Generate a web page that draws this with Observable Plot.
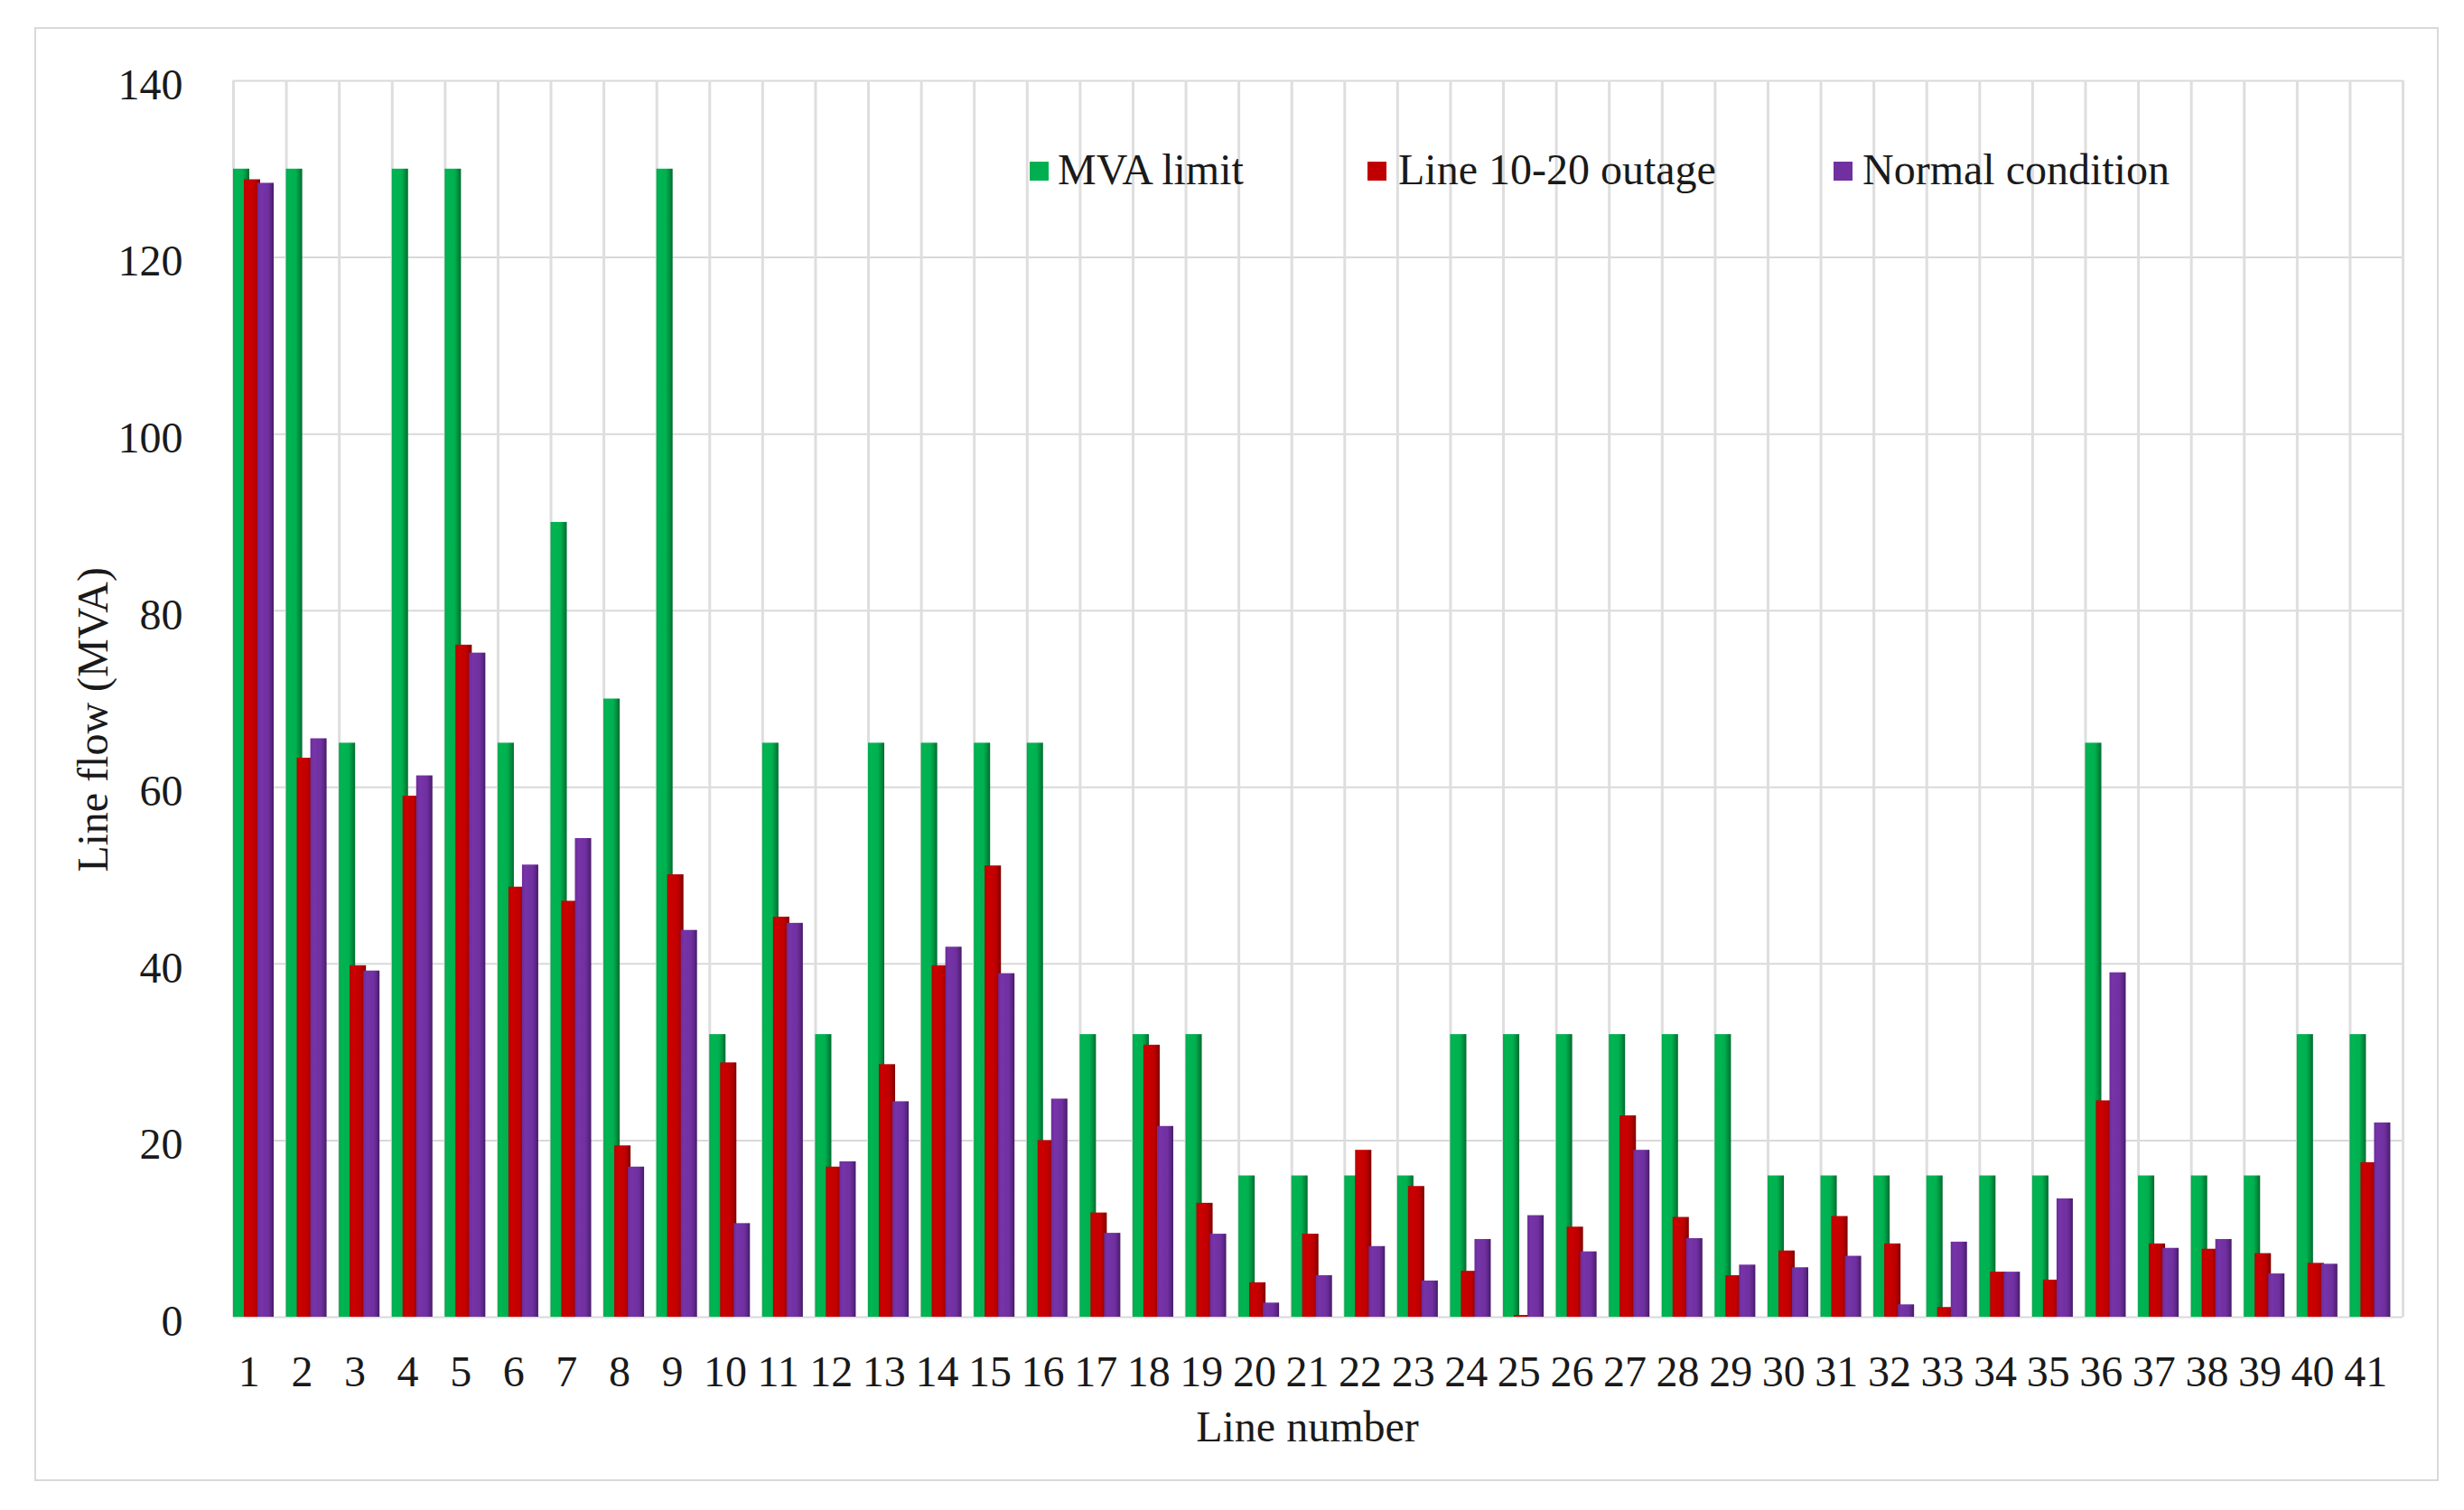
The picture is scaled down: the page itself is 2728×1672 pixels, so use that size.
<!DOCTYPE html>
<html>
<head>
<meta charset="utf-8">
<script src="https://cdn.jsdelivr.net/npm/d3@7"></script>
<script src="https://cdn.jsdelivr.net/npm/@observablehq/plot@0.6"></script>
<style>
  html, body { margin: 0; padding: 0; background: #fff; }
  #wrap { position: relative; width: 2728px; height: 1672px; overflow: hidden; background: #fff;
          font-family: "Liberation Serif", "Times New Roman", serif; color: #1a1a1a; }
  #chart { position: absolute; left: 0; top: 0; }
  #border { position: absolute; left: 38px; top: 30px; width: 2662px; height: 1610px;
            box-sizing: border-box; border: 2px solid #d9d9d9; pointer-events: none; }
  .lg-sw { position: absolute; width: 21px; height: 21px; top: 179px; }
  .lg-tx { position: absolute; top: 162px; font-size: 48px; line-height: 52px; white-space: nowrap; }
  #defs { position: absolute; width: 0; height: 0; }
</style>
</head>
<body>
<svg id="defs" width="0" height="0">
  <defs>
    <linearGradient id="gGreen" x1="0" y1="0" x2="1" y2="0">
      <stop offset="0" stop-color="#00a84c"/>
      <stop offset="0.15" stop-color="#00b552"/>
      <stop offset="0.6" stop-color="#00b050"/>
      <stop offset="0.8" stop-color="#00913f"/>
      <stop offset="1" stop-color="#006a30"/>
    </linearGradient>
    <linearGradient id="gRed" x1="0" y1="0" x2="1" y2="0">
      <stop offset="0" stop-color="#b80000"/>
      <stop offset="0.2" stop-color="#cc0000"/>
      <stop offset="0.65" stop-color="#c00000"/>
      <stop offset="0.85" stop-color="#a00000"/>
      <stop offset="1" stop-color="#7a0000"/>
    </linearGradient>
    <linearGradient id="gPurple" x1="0" y1="0" x2="1" y2="0">
      <stop offset="0" stop-color="#6a2c99"/>
      <stop offset="0.2" stop-color="#7634a8"/>
      <stop offset="0.65" stop-color="#7030a0"/>
      <stop offset="0.85" stop-color="#5c2586"/>
      <stop offset="1" stop-color="#431a63"/>
    </linearGradient>
  </defs>
</svg>
<div id="wrap">
  <div id="chart"></div>
  <div id="border"></div>
  <div class="lg-sw" style="left:1140px;background:#00b050"></div>
  <div class="lg-tx" style="left:1171px">MVA limit</div>
  <div class="lg-sw" style="left:1514px;background:#c00000"></div>
  <div class="lg-tx" style="left:1548px">Line 10-20 outage</div>
  <div class="lg-sw" style="left:2030px;background:#7030a0"></div>
  <div class="lg-tx" style="left:2062px">Normal condition</div>
</div>
<script>
// ---- Data ----
const lines = [1,2,3,4,5,6,7,8,9,10,11,12,13,14,15,16,17,18,19,20,21,22,23,24,25,26,27,28,29,30,31,32,33,34,35,36,37,38,39,40,41];
const mvaLimit = [130,130,65,130,130,65,90,70,130,32,65,32,65,65,65,65,32,32,32,16,16,16,16,32,32,32,32,32,32,16,16,16,16,16,16,65,16,16,16,32,32];
const outage = [128.8,63.3,39.8,59.0,76.1,48.7,47.1,19.4,50.1,28.8,45.3,17.0,28.6,39.8,51.1,20.0,11.8,30.8,12.9,3.9,9.4,18.9,14.8,5.2,0.2,10.2,22.8,11.3,4.7,7.5,11.4,8.3,1.1,5.1,4.2,24.5,8.3,7.7,7.2,6.1,17.5];
const normal = [128.4,65.5,39.2,61.3,75.2,51.2,54.2,17.0,43.8,10.6,44.6,17.6,24.4,41.9,38.9,24.7,9.5,21.6,9.4,1.6,4.7,8.0,4.1,8.8,11.5,7.4,18.9,8.9,5.9,5.6,6.9,1.4,8.5,5.1,13.4,39.0,7.8,8.8,4.9,6.0,22.0];
const yTicks = [0,20,40,60,80,100,120,140];

const table = lines.map((l, i) => ({line: l, limit: mvaLimit[i], outage: outage[i], normal: normal[i]}));

// ---- Layout ----
const W = 2728, H = 1672;
const mL = 258, mR = 68, mT = 89, mB = 214;
const bw = (W - mL - mR) / lines.length;
const barW = 18;

const chart = Plot.plot({
  width: W, height: H,
  marginLeft: mL, marginRight: mR, marginTop: mT, marginBottom: mB,
  style: {fontFamily: "'Liberation Serif', 'Times New Roman', serif", fontSize: "48px", color: "#1a1a1a", background: "transparent"},
  x: {type: "band", domain: lines, padding: 0, round: false, axis: null},
  y: {domain: [0, 140], axis: null},
  marks: [
    Plot.ruleY(yTicks, {y: d => d, stroke: "#d9d9d9", strokeWidth: 2}),
    Plot.ruleX(lines, {x: d => d, dx: -bw / 2, stroke: "#dedede", strokeWidth: 3}),
    Plot.ruleX([lines[lines.length - 1]], {x: d => d, dx: bw / 2, stroke: "#dedede", strokeWidth: 3}),
    Plot.barY(table, {x: "line", y: "limit", fill: "url(#gGreen)", insetLeft: 0, insetRight: bw - barW}),
    Plot.barY(table, {x: "line", y: "outage", fill: "url(#gRed)", insetLeft: 12, insetRight: bw - 12 - barW}),
    Plot.barY(table, {x: "line", y: "normal", fill: "url(#gPurple)", insetLeft: 27, insetRight: bw - 27 - barW}),
    Plot.axisX({tickSize: 0, tickPadding: 42, fontSize: 48, dx: -12, label: null}),
    Plot.axisY({ticks: yTicks, tickSize: 0, tickPadding: 56, fontSize: 48, dy: 5, label: null}),
    Plot.text(["Line number"], {text: d => d, frameAnchor: "bottom", lineAnchor: "middle", dy: 122, dx: -12, fontSize: 48}),
    Plot.text(["Line flow (MVA)"], {text: d => d, frameAnchor: "left", textAnchor: "middle", lineAnchor: "middle", rotate: -90, dx: -155, dy: 23, fontSize: 48})
  ]
});
document.getElementById("chart").appendChild(chart);
</script>
</body>
</html>
